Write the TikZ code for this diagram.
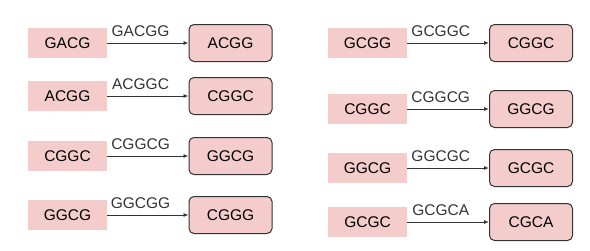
\documentclass[tikz,border=0pt]{standalone}
\usepackage{fontspec}
\setmainfont{Liberation Sans}
\usetikzlibrary{arrows.meta}
\definecolor{kfill}{HTML}{F4CCCC}
\definecolor{kline}{HTML}{333333}

\begin{document}
\begin{tikzpicture}[x=1pt, y=-1pt,
    kmer/.style={fill=kfill, minimum width=79pt, minimum height=30pt, inner sep=0pt,
        font=\fontsize{15.5}{18}\selectfont},
    kbox/.style={kmer, draw=kline, line width=1pt, rounded corners=5pt,
        minimum width=83pt, minimum height=37pt},
    edge/.style={kline, line width=0.9pt, -{Latex[length=5pt,width=4pt]}},
    elabel/.style={pos=0.41, above=6pt, inner sep=0pt, font=\fontsize{15.5}{18}\selectfont}]
    \useasboundingbox (0,0) rectangle (590,250);

    % --- 1. 左欄 ---
    \node[kmer] (L1) at (67.5,43) {GACG};
    \node[kbox] (R1) at (230.5,43) {ACGG};
    \node[kmer] (L2) at (67.5,96) {ACGG};
    \node[kbox] (R2) at (230.5,96) {CGGC};
    \node[kmer] (L3) at (67.5,156) {CGGC};
    \node[kbox] (R3) at (230.5,156) {GGCG};
    \node[kmer] (L4) at (67.5,215) {GGCG};
    \node[kbox] (R4) at (230.5,215) {CGGG};

    % --- 2. 右欄 ---
    \node[kmer] (L5) at (367.5,43) {GCGG};
    \node[kbox] (R5) at (531,43) {CGGC};
    \node[kmer] (L6) at (367.5,109) {CGGC};
    \node[kbox] (R6) at (531,109) {GGCG};
    \node[kmer] (L7) at (367.5,168) {GGCG};
    \node[kbox] (R7) at (531,168) {GCGC};
    \node[kmer] (L8) at (367.5,222) {GCGC};
    \node[kbox] (R8) at (531,222) {CGCA};

    % --- 3. 箭頭與標籤 ---
    \draw[edge] (L1) -- node[elabel] {GACGG} (R1);
    \draw[edge] (L2) -- node[elabel] {ACGGC} (R2);
    \draw[edge] (L3) -- node[elabel] {CGGCG} (R3);
    \draw[edge] (L4) -- node[elabel] {GGCGG} (R4);
    \draw[edge] (L5) -- node[elabel] {GCGGC} (R5);
    \draw[edge] (L6) -- node[elabel] {CGGCG} (R6);
    \draw[edge] (L7) -- node[elabel] {GGCGC} (R7);
    \draw[edge] (L8) -- node[elabel] {GCGCA} (R8);

\end{tikzpicture}
\end{document}
